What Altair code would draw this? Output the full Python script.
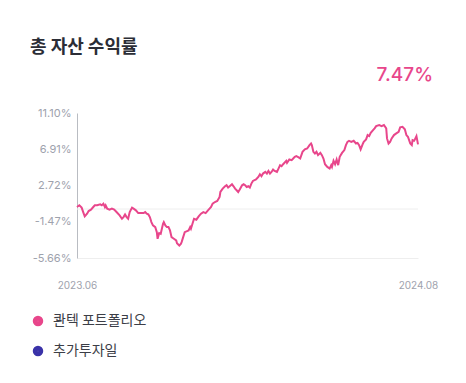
import altair as alt
import pandas as pd

# day offsets from the start (2023.06) and cumulative return in %
days = [0, 3, 6, 8, 10, 13, 15, 18, 21, 23, 26, 30, 32, 34, 36, 37, 39, 42, 45, 48,
        51, 55, 58, 60, 62, 64, 66, 68, 71, 73, 76, 79, 82, 86, 88, 90, 92, 94, 96, 98,
        101, 103, 104, 106, 108, 111, 112, 114, 116, 118, 120, 122, 125, 128, 129, 132, 134, 135, 137, 139,
        142, 144, 146, 147, 149, 151, 154, 157, 160, 163, 166, 169, 173, 175, 178, 181, 184, 185, 188, 191,
        193, 195, 197, 200, 202, 204, 206, 208, 210, 213, 215, 217, 219, 221, 223, 225, 227, 231, 234, 236,
        238, 240, 243, 245, 247, 249, 251, 253, 255, 258, 260, 262, 264, 266, 270, 271, 274, 277, 279, 281,
        283, 286, 288, 291, 294, 297, 300, 302, 303, 305, 307, 309, 311, 314, 316, 318, 320, 323, 326, 328,
        329, 331, 333, 335, 337, 339, 342, 345, 347, 349, 351, 354, 357, 360, 362, 364, 366, 369, 370, 373,
        375, 377, 379, 382, 384, 386, 390, 393, 396, 399, 400, 402, 404, 406, 409, 412, 415, 417, 420, 423,
        425, 427, 430, 432, 433, 435, 436, 438, 439, 440]
returns = [0.23, 0.43, 0.16, -0.35, -0.85, -0.54, -0.23, -0.07, 0.23, 0.43, 0.43, 0.54, 0.43, 0.62, 0.23, 0.43, 0.04, -0.07, 0.04, -0.07,
           -0.35, -0.73, -1.12, -0.93, -0.62, -0.93, -1.12, -0.35, 0.16, 0.04, -0.15, -0.47, -0.47, -0.47, -0.35, -0.54, -0.62, -0.93, -1.51, -1.89,
           -2.09, -2.67, -3.44, -2.79, -2.86, -1.70, -1.51, -1.89, -2.09, -2.09, -2.47, -3.25, -3.44, -3.63, -3.95, -4.21, -4.02, -3.83, -3.25, -2.67,
           -2.55, -2.47, -2.09, -2.28, -1.70, -1.12, -1.23, -0.85, -0.54, -0.35, -0.47, -0.15, 0.23, 0.62, 0.81, 0.93, 1.39, 1.97, 2.36, 2.63,
           2.75, 2.48, 2.63, 2.86, 2.63, 2.36, 2.17, 1.97, 2.25, 2.75, 2.86, 2.75, 2.55, 2.63, 2.48, 2.94, 3.25, 3.41, 3.71, 4.02,
           3.79, 4.10, 4.29, 4.10, 4.41, 4.10, 4.29, 4.57, 4.41, 4.29, 4.68, 5.07, 4.95, 5.18, 5.57, 5.33, 5.73, 5.65, 5.84, 6.03,
           6.11, 5.96, 5.84, 6.61, 6.89, 7.00, 7.39, 7.58, 7.39, 6.61, 6.42, 6.61, 6.23, 6.49, 6.23, 5.84, 5.18, 4.87, 4.68, 5.07,
           4.87, 5.57, 5.18, 5.73, 5.07, 6.03, 6.49, 6.81, 7.39, 7.77, 7.89, 7.77, 7.89, 7.58, 7.65, 7.39, 6.89, 7.58, 7.77, 8.05,
           8.55, 8.43, 8.81, 9.13, 9.33, 9.59, 9.71, 9.59, 9.71, 9.33, 8.16, 7.58, 7.77, 8.16, 8.55, 8.74, 8.93, 9.44, 9.51, 9.21,
           8.55, 8.35, 7.58, 7.39, 7.97, 7.89, 8.05, 8.43, 7.97, 7.47]

y_ticks = [-5.66, -1.47, 2.72, 6.91, 11.10]
x_labels = ["2023.06", "2024.08"]
series = ["콴텍 포트폴리오", "추가투자일"]
colors = ["#e8468b", "#3a32a8"]
title_text = "총 자산 수익률"
latest_text = "7.47%"

FONT = "Noto Sans CJK KR"
NUMFONT = "Inter"

df = pd.DataFrame({"day": days, "ret": returns, "series": series[0]})

y_scale = alt.Scale(domain=[y_ticks[0], y_ticks[-1]], nice=False, zero=False)
y_axis = alt.Axis(values=y_ticks,
                  labelExpr="replace(format(datum.value, '.2f'), '\u2212', '-') + '%'",
                  title=None, grid=False, ticks=False, domain=True, domainColor="#b9bcc2",
                  labelColor="#9ea2ad", labelFontSize=11, labelPadding=6,
                  labelOverlap=False, labelBound=False, labelFlush=False,
                  labelFont=NUMFONT)

x_enc = alt.X("day:Q", scale=alt.Scale(domain=[days[0], days[-1]], nice=False, zero=False),
              axis=alt.Axis(values=[days[0], days[-1]],
                            labelExpr=f"datum.value == 0 ? '{x_labels[0]}' : '{x_labels[1]}'",
                            title=None, grid=False, ticks=False, domain=True, domainColor="#eeeeee",
                            labelColor="#9ea2ad", labelFontSize=10, labelPadding=22,
                            labelAlign="center", labelOverlap=False, labelBound=False,
                            labelFont=NUMFONT))
y_enc = alt.Y("ret:Q", scale=y_scale, axis=y_axis)

color_enc = alt.Color("series:N",
                      scale=alt.Scale(domain=series, range=colors),
                      legend=alt.Legend(title=None, orient="none", legendX=-46, legendY=201,
                                        symbolType="circle", symbolSize=30, symbolStrokeWidth=5,
                                        labelFontSize=14, labelColor="#3c3e47", labelFont=FONT,
                                        rowPadding=4, labelOffset=8))

line = alt.Chart(df).mark_line(strokeWidth=2, interpolate="linear").encode(
    x=x_enc, y=y_enc, color=color_enc
)

zero_rule = alt.Chart(pd.DataFrame({"z": [0]})).mark_rule(color="#eeeeee", strokeWidth=1).encode(
    y=alt.Y("z:Q", scale=y_scale, axis=y_axis)
)

title = alt.Chart(pd.DataFrame({"t": [title_text]})).mark_text(
    align="left", baseline="alphabetic", fontSize=18, fontWeight=600, color="#2b2d36", font=FONT
).encode(x=alt.value(-47), y=alt.value(-60), text="t:N")

latest = alt.Chart(pd.DataFrame({"t": [latest_text]})).mark_text(
    align="right", baseline="alphabetic", fontSize=19, fontWeight=500, color="#e8468b", font=NUMFONT
).encode(x=alt.value(356), y=alt.value(-32), text="t:N")

chart = alt.layer(zero_rule, line, title, latest).properties(
    width=341, height=145,
    autosize=alt.AutoSizeParams(type="none"),
    padding={"left": 69, "top": 105, "right": 40, "bottom": 117},
).configure(background="#ffffff").configure_view(stroke=None)

chart.save("out.html", embed_options={"renderer": "svg", "actions": False})
